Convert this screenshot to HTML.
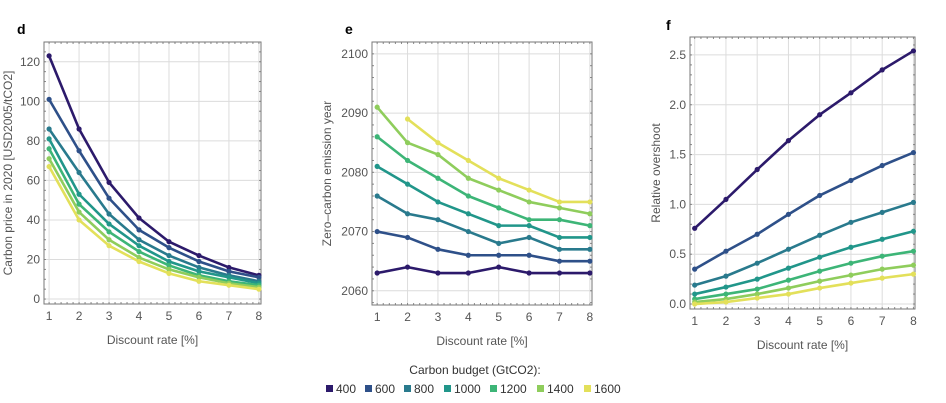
<!DOCTYPE html>
<html><head><meta charset="utf-8"><style>
body{margin:0;background:#fff;}
svg{display:block;font-family:"Liberation Sans",sans-serif;}
</style></head><body>
<svg id="c" width="946" height="403" viewBox="0 0 946 403"></svg>
<script>
const categories=[1,2,3,4,5,6,7,8];
const budgets=["400","600","800","1000","1200","1400","1600"];
const colors=["#2c1a6b","#2e5089","#297a8d","#21968a","#3db577","#8fcd5c","#e3e05a"];
const priceSeries=[
[123,86,59,41,29,22,16,12],
[101,75,51,35,26,19,14,11],
[86,64,43,30,22,16,12,9],
[81,53,38,27,19,14,11,8],
[76,48,34,24,17,12,9,7],
[71,44,30,21,15,11,8,6],
[67,40,27,19,13,9,7,5]];
const yearSeries=[
[2063,2064,2063,2063,2064,2063,2063,2063],
[2070,2069,2067,2066,2066,2066,2065,2065],
[2076,2073,2072,2070,2068,2069,2067,2067],
[2081,2078,2075,2073,2071,2071,2069,2069],
[2086,2082,2079,2076,2074,2072,2072,2071],
[2091,2085,2083,2079,2077,2075,2074,2073],
[null,2089,2085,2082,2079,2077,2075,2075]];
const overshootSeries=[
[0.76,1.05,1.35,1.64,1.9,2.12,2.35,2.54],
[0.35,0.53,0.7,0.9,1.09,1.24,1.39,1.52],
[0.19,0.28,0.41,0.55,0.69,0.82,0.92,1.02],
[0.1,0.17,0.25,0.36,0.47,0.57,0.65,0.73],
[0.05,0.1,0.15,0.24,0.33,0.41,0.48,0.53],
[0.02,0.05,0.1,0.16,0.23,0.29,0.35,0.39],
[0.0,0.02,0.06,0.1,0.16,0.21,0.26,0.3]];
const priceTicks=[0,20,40,60,80,100,120];
const yearTicks=[2060,2070,2080,2090,2100];
const overshootTicks=[0,0.5,1,1.5,2,2.5];
const overshootTickLabels=["0.0","0.5","1.0","1.5","2.0","2.5"];

const svg=document.getElementById('c');
const NS="http://www.w3.org/2000/svg";
function el(t,a,p){const e=document.createElementNS(NS,t);for(const k in a)e.setAttribute(k,a[k]);(p||svg).appendChild(e);return e;}

function panel(o){
  const g=el('g',{});
  
  
  const x=v=>o.L+(v-o.x0)/(o.x1-o.x0)*(o.R-o.L);
  const y=v=>o.B-(v-o.y0)/(o.y1-o.y0)*(o.B-o.T);
  categories.forEach(c=>{const l=el('line',{x1:x(c),x2:x(c),y1:o.T,y2:o.B,stroke:'#dcdcdc','stroke-width':1},g);});
  o.ticks.forEach(t=>{const l=el('line',{x1:o.L,x2:o.R,y1:y(t),y2:y(t),stroke:'#dcdcdc','stroke-width':1},g);});
  for(let v=Math.ceil(o.x0*5)/5;v<=o.x1;v+=0.2){el('line',{x1:x(v),x2:x(v),y1:o.B,y2:o.B-2,stroke:'#888'},g);el('line',{x1:x(v),x2:x(v),y1:o.T,y2:o.T+2,stroke:'#888'},g);}
  const ms=o.minor;
  for(let v=Math.ceil(o.y0/ms)*ms;v<=o.y1;v+=ms){el('line',{x1:o.L,x2:o.L+2,y1:y(v),y2:y(v),stroke:'#888'},g);el('line',{x1:o.R,x2:o.R-2,y1:y(v),y2:y(v),stroke:'#888'},g);}
  const f=el('rect',{x:o.L,y:o.T,width:o.R-o.L,height:o.B-o.T,fill:'none',stroke:'#777','stroke-width':1},g);
  
  categories.forEach(c=>{const t=el('text',{x:x(c),y:o.B+16,'text-anchor':'middle','font-size':12,fill:'#555'},g);t.textContent=c;});
  o.ticks.forEach((v,i)=>{const t=el('text',{x:o.L-4,y:y(v)+4,'text-anchor':'end','font-size':12,fill:'#555'},g);t.textContent=o.labels?o.labels[i]:v;});
  const xt=el('text',{x:(o.L+o.R)/2,y:o.B+40,'text-anchor':'middle','font-size':12,fill:'#555'},g);xt.textContent='Discount rate [%]';
  const yt=el('text',{x:0,y:0,'text-anchor':'middle','font-size':12,fill:'#555',transform:`translate(${o.ytx},${(o.T+o.B)/2}) rotate(-90)`},g);yt.textContent=o.ytitle;
  const lt=el('text',{x:o.lx,y:o.ly,'font-size':14,'font-weight':'bold',fill:'#000'},g);lt.textContent=o.letter;
  o.data.forEach((s,si)=>{
    const pts=[];s.forEach((v,i)=>{if(v!==null)pts.push([x(categories[i]),y(v)]);});
    const p=el('polyline',{points:pts.map(q=>q.join(',')).join(' '),fill:'none',stroke:colors[si],'stroke-width':2.6,'stroke-linejoin':'round'},g);
    
    pts.forEach(q=>{const c=el('circle',{cx:q[0],cy:q[1],r:2.6,fill:colors[si]},g);});
  });
}
panel({name:'panel-d-carbon-price',L:44,R:261,T:42,B:304,x0:0.83,x1:8.07,y0:-2.5,y1:130,ticks:priceTicks,minor:5,data:priceSeries,ytitle:'Carbon price in 2020 [USD2005/tCO2]',ytx:12,letter:'d',lx:17,ly:34});
panel({name:'panel-e-zero-carbon-year',L:372,R:592,T:42,B:305,x0:0.83,x1:8.07,y0:2057.6,y1:2102,ticks:yearTicks,minor:2,data:yearSeries,ytitle:'Zero\u2013carbon emission year',ytx:331,letter:'e',lx:345,ly:34});
panel({name:'panel-f-relative-overshoot',L:690,R:915,T:37,B:309,x0:0.85,x1:8.05,y0:-0.05,y1:2.68,ticks:overshootTicks,labels:overshootTickLabels,minor:0.1,data:overshootSeries,ytitle:'Relative overshoot',ytx:660,letter:'f',lx:666,ly:30});

const lg=el('g',{});


const lt=el('text',{x:475,y:374,'text-anchor':'middle','font-size':12,fill:'#333'},lg);lt.textContent='Carbon budget (GtCO2):';


const lx=[326,365,404,444,490,537,584];
budgets.forEach((b,i)=>{
  const r=el('rect',{x:lx[i],y:385,width:7,height:7,fill:colors[i]},lg);
  
  
  const t=el('text',{x:lx[i]+10,y:393,'font-size':12,fill:'#333'},lg);t.textContent=b;
  
  
});
</script>
</body></html>
